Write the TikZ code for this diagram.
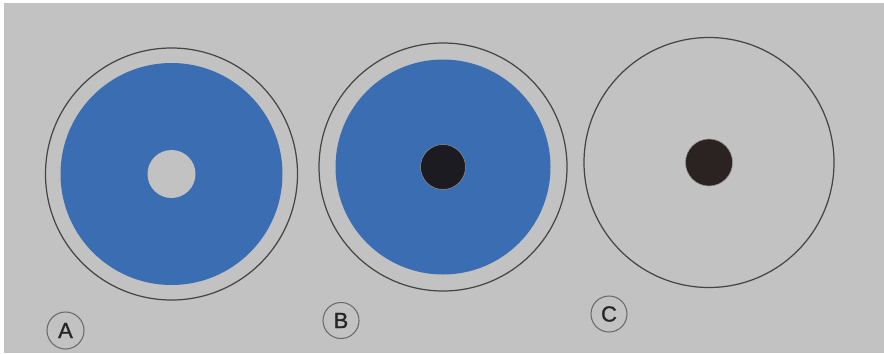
\documentclass[tikz,border=0pt]{standalone}
\usepackage{fontspec}
\setmainfont{Liberation Sans}
\usepackage{tikz}
\usetikzlibrary{positioning}
\definecolor{dpaper}{HTML}{C3C2C2}
\definecolor{dblue}{HTML}{3B6DB2}
\definecolor{dink}{HTML}{1C1B22}
\definecolor{dbrown}{HTML}{2B2222}
\definecolor{dline}{HTML}{454545}

\begin{document}
\begin{tikzpicture}[
  ring/.style={circle, draw=dline, line width=0.7pt, inner sep=0pt},
  disk/.style={circle, fill=dblue, inner sep=0pt},
  hole/.style={circle, fill=dpaper, inner sep=0pt},
  dot/.style={circle, fill=dink, draw=dpaper!70!dink, line width=0.3pt, inner sep=0pt},
  tag/.style={circle, draw=dline!80, line width=0.6pt, inner sep=0pt, text=black!85,
    minimum size=0.72cm, font=\fontsize{12.5}{14}\selectfont}
]
% page and paper
\fill[white] (0,0) rectangle (17.68,7.06);
\fill[dpaper] (0.08,0) rectangle (17.68,7.0);
\useasboundingbox (0,0) rectangle (17.68,7.06);

% A
\node[ring, minimum size=5.04cm] (ringA) at (3.43,3.58) {};
\node[disk, minimum size=4.44cm] (diskA) at (ringA.center) {};
\node[hole, minimum size=0.96cm] (holeA) at (ringA.center) {};
\node[tag, minimum size=0.74cm] (tagA) at (1.31,0.45) {\addfontfeature{FakeBold=1.2}A};

% B
\node[ring, minimum size=4.96cm] (ringB) at (8.86,3.72) {};
\node[disk, minimum size=4.30cm] (diskB) at (ringB.center) {};
\node[dot, minimum size=0.90cm] (dotB) at (ringB.center) {};
\node[tag] (tagB) at (6.82,0.65) {\addfontfeature{FakeBold=1.2}B};

% C
\node[ring, minimum size=5.00cm] (ringC) at (14.18,3.81) {};
\node[dot, fill=dbrown, minimum size=0.94cm] (dotC) at (ringC.center) {};
\node[tag] (tagC) at (12.18,0.78) {\addfontfeature{FakeBold=1.2}C};
\end{tikzpicture}
\end{document}
